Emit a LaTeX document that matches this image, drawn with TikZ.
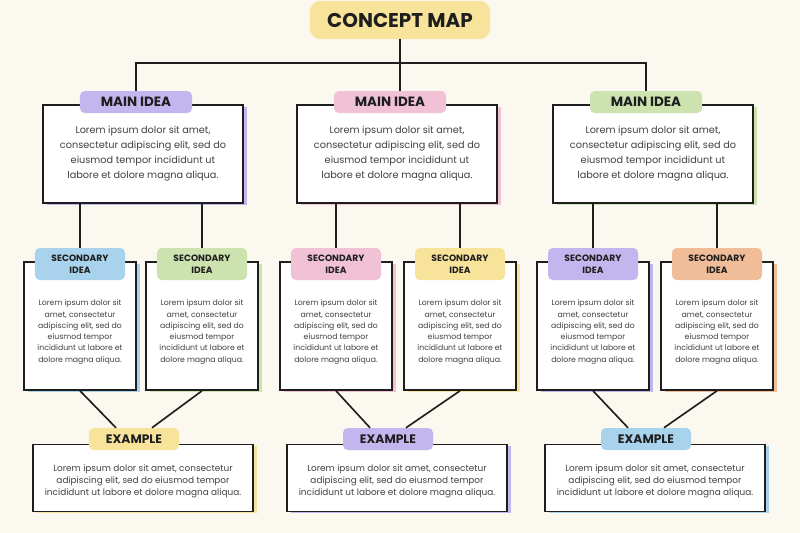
\documentclass[tikz,border=0pt]{standalone}
\usepackage{fontspec}
\setmainfont{Poppins}
\usetikzlibrary{calc,shadows,positioning}
\definecolor{paper}{HTML}{FBF8F0}
\definecolor{cyel}{HTML}{F8E39A}
\definecolor{cpur}{HTML}{C3B6EE}
\definecolor{cpink}{HTML}{F1C2D6}
\definecolor{cgreen}{HTML}{CCE3B0}
\definecolor{cblue}{HTML}{A9D2EC}
\definecolor{corange}{HTML}{F1BC98}
\definecolor{ink}{HTML}{1E1E1E}
\newcommand{\lorem}{Lorem ipsum dolor sit amet,\\consectetur adipiscing elit, sed do\\eiusmod tempor incididunt ut\\labore et dolore magna aliqua.}
\newcommand{\loremsmall}{Lorem ipsum dolor sit\\amet, consectetur\\adipiscing elit, sed do\\eiusmod tempor\\incididunt ut labore et\\dolore magna aliqua.}
\newcommand{\loremwide}{Lorem ipsum dolor sit amet, consectetur\\adipiscing elit, sed do eiusmod tempor\\incididunt ut labore et dolore magna aliqua.}
\tikzset{
  box/.style={draw=ink, line width=1.4pt, fill=white, align=center, text=ink!85,
    general shadow={fill=#1, shadow xshift=3.5pt, shadow yshift=-1.5pt}},
  mainbox/.style={box=#1, minimum width=6cm, minimum height=2.94cm,
    font=\fontsize{8.3}{12.8}\selectfont},
  secbox/.style={box=#1, minimum width=3.36cm, minimum height=3.84cm,
    font=\fontsize{6.6}{9.6}\selectfont},
  exbox/.style={box=#1, minimum width=6.6cm, minimum height=2cm,
    font=\fontsize{7.6}{10.2}\selectfont},
  pill/.style={fill=#1, rounded corners=4pt, align=center, text=ink,
    inner sep=0pt, font=\bfseries},
  mainlab/.style={pill=#1, minimum width=3.36cm, minimum height=0.66cm,
    font=\fontsize{11.5}{12}\bfseries\selectfont},
  seclab/.style={pill=#1, minimum width=2.7cm, minimum height=0.96cm,
    font=\fontsize{7.8}{10}\bfseries\selectfont},
  exlab/.style={pill=#1, minimum width=2.7cm, minimum height=0.66cm,
    font=\fontsize{10.5}{12}\bfseries\selectfont},
  link/.style={draw=ink, line width=1.4pt}
}
\begin{document}
\begin{tikzpicture}[x=0.03cm,y=-0.03cm]
  \fill[paper] (0,0) rectangle (800,533);
  \useasboundingbox (0,0) rectangle (800,533);
  % title
  \node[pill=cyel, rounded corners=9pt, minimum width=5.4cm, minimum height=1.15cm,
    font=\fontsize{17}{18}\bfseries\selectfont] (title) at (400,20) {CONCEPT MAP};
  \coordinate (top) at (400,63);
  % columns: index / main x / left x / right x / example x / colours
  \foreach \i/\mx/\la/\lb/\ex/\cm/\ca/\cb/\ce in
      {1/143/80/202/143/cpur/cblue/cgreen/cyel,
       2/397/336/460/397/cpink/cpink/cyel/cpur,
       3/653/593/717/655/cgreen/cpur/corange/cblue}{
    \node[mainbox=\cm] (main\i) at (\mx,154) {\lorem};
    \node[mainlab=\cm] (mlab\i) at (\mx-7,102) {MAIN IDEA};
    \node[secbox=\ca] (seca\i) at (\la,326) {\\[6pt]\loremsmall};
    \node[secbox=\cb] (secb\i) at (\lb,326) {\\[6pt]\loremsmall};
    \node[seclab=\ca] (sla\i) at (\la,264) {SECONDARY\\IDEA};
    \node[seclab=\cb] (slb\i) at (\lb,264) {SECONDARY\\IDEA};
    \node[exbox=\ce] (ex\i) at (\ex,478) {\\[2pt]\loremwide};
    \node[exlab=\ce] (elab\i) at (\ex-9,439) {EXAMPLE};
    \draw[link] (main\i.south -| sla\i.north) -- (sla\i.north);
    \draw[link] (main\i.south -| slb\i.north) -- (slb\i.north);
    \draw[link] (seca\i.south) -- ($(elab\i.north)+(-18,0)$);
    \draw[link] (secb\i.south) -- ($(elab\i.north)+(18,0)$);
  }
  \draw[link] (title.south) -- (mlab2.north -| title.south);
  \draw[link] (mlab1.north) |- (top) -| (mlab3.north);
\end{tikzpicture}
\end{document}
